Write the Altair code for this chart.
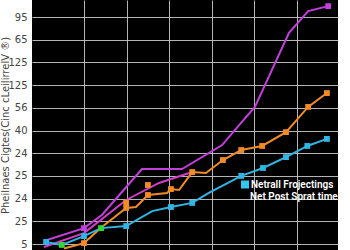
import altair as alt
import pandas as pd

# ---- data (x in grid-column units, y in gridline-index units) ----
ytick_labels = ["5", "25", "24", "25", "24", "40", "56", "125", "125", "65", "95"]

purple_x = [0.06, 1.00, 1.42, 1.89, 2.36, 3.30, 4.24, 4.64, 5.01, 5.81, 6.26, 6.73]
purple_y = [0.13, 0.70, 1.28, 2.29, 3.30, 3.30, 4.36, 5.24, 6.04, 9.30, 10.26, 10.48]

magenta_x = [0.06, 1.00, 1.99, 2.76, 3.54]
magenta_y = [-0.13, 0.48, 1.94, 2.69, 3.17]

orange_x = [0.53, 1.00, 1.42, 1.99, 2.22, 2.50, 2.95, 3.04, 3.23, 3.54, 3.86, 4.26, 4.69, 5.18, 5.74, 6.26, 6.70]
orange_y = [-0.20, 0.04, 0.75, 1.59, 1.63, 2.16, 2.25, 2.42, 2.38, 3.17, 3.13, 3.70, 4.14, 4.32, 4.93, 6.04, 6.65]
orange_mark = [0, 1, 0, 1, 0, 1, 0, 1, 0, 1, 0, 1, 1, 1, 1, 1, 1]

cyan_x = [0.11, 0.48, 1.00, 1.40, 1.99, 2.60, 3.04, 3.54, 3.93, 4.69, 5.20, 5.74, 6.24, 6.70]
cyan_y = [0.09, -0.04, 0.35, 0.70, 0.79, 1.45, 1.63, 1.81, 2.25, 3.00, 3.35, 3.83, 4.32, 4.63]
cyan_mark = [1, 0, 1, 0, 1, 0, 1, 1, 0, 1, 1, 1, 1, 1]

green_x = [0.48, 1.40]
green_y = [-0.04, 0.70]

extra_orange_x = [1.99, 2.50]
extra_orange_y = [1.83, 2.60]

purple_mark = [0, 1, 0, 0, 0, 0, 0, 0, 0, 0, 0, 1]

legend_line1 = "Netrall Frojectings"
legend_line2 = "Net Post Sprat time"
y_title = "Pheilnaes Cigtes(Cinc cLeilirrelV ®)"

series_names = ["purple", "magenta", "orange", "cyan", "green"]
series_colors = ["#c23fdc", "#d23cc8", "#f28a26", "#2fb6e4", "#35d635"]

rows = []
def add(name, xs, ys, marks=None):
    for i, (a, b) in enumerate(zip(xs, ys)):
        rows.append({"s": name, "i": i, "x": a, "y": b,
                     "m": 1 if marks is None else marks[i]})

add("purple", purple_x, purple_y, purple_mark)
add("magenta", magenta_x, magenta_y, [0] * len(magenta_x))
add("orange", orange_x, orange_y, orange_mark)
add("cyan", cyan_x, cyan_y, cyan_mark)
df = pd.DataFrame(rows)

mk = df[df["m"] == 1].copy()
extra = pd.DataFrame(
    [{"s": "green", "x": a, "y": b} for a, b in zip(green_x, green_y)]
    + [{"s": "orange", "x": a, "y": b} for a, b in zip(extra_orange_x, extra_orange_y)]
)
mk = pd.concat([mk[["s", "x", "y"]], extra], ignore_index=True)

label_map = "[" + ",".join("'%s'" % t for t in ytick_labels) + "]"

xs = alt.X("x:Q", scale=alt.Scale(domain=[-0.22, 6.96], nice=False, zero=False),
           axis=alt.Axis(values=[1, 2, 3, 4, 5, 6], labels=False, ticks=False,
                         domain=False, title=None, grid=True))
ys = alt.Y("y:Q", scale=alt.Scale(domain=[-0.264, 10.75], nice=False, zero=False),
           axis=alt.Axis(values=list(range(11)), labelExpr=label_map + "[datum.value]",
                         ticks=False, domain=False, grid=True, title=y_title,
                         labelFontSize=10, labelColor="#444444", labelPadding=5,
                         titleFontSize=10, titleColor="#444444", titlePadding=2,
                         titleFontWeight="normal", labelFont="DejaVu Sans",
                         titleFont="DejaVu Sans", minExtent=20, maxExtent=20))
col = alt.Color("s:N", scale=alt.Scale(domain=series_names, range=series_colors), legend=None)

lines = alt.Chart(df).mark_line(strokeWidth=2).encode(x=xs, y=ys, color=col, order="i:Q", detail="s:N")
pts = alt.Chart(mk).mark_square(size=34, opacity=1, filled=True).encode(x=xs, y=ys, color=col)

leg_sq = alt.Chart(pd.DataFrame({"t": [legend_line1]})).mark_square(
    size=64, color="#33c6ee", opacity=1, filled=True
).encode(x=alt.value(213), y=alt.value(184.5))
leg_t1 = alt.Chart(pd.DataFrame({"t": [legend_line1]})).mark_text(
    align="left", baseline="middle", fontSize=10, color="white", font="Roboto", fontWeight=600
).encode(x=alt.value(219), y=alt.value(184.5), text="t:N")
leg_t2 = alt.Chart(pd.DataFrame({"t": [legend_line2]})).mark_text(
    align="left", baseline="middle", fontSize=10, color="white", font="Roboto", fontWeight=600
).encode(x=alt.value(218), y=alt.value(196.5), text="t:N")

chart = alt.layer(lines, pts, leg_sq, leg_t1, leg_t2).properties(
    width=306, height=250, background="white",
    padding={"left": 0, "top": 0, "right": 11, "bottom": 0}
).configure_view(fill="black", stroke=None).configure_axis(
    gridColor="#c8c8c8", gridWidth=1, gridOpacity=0.9
)

chart.save("out.html", embed_options={"renderer": "svg", "actions": False})
